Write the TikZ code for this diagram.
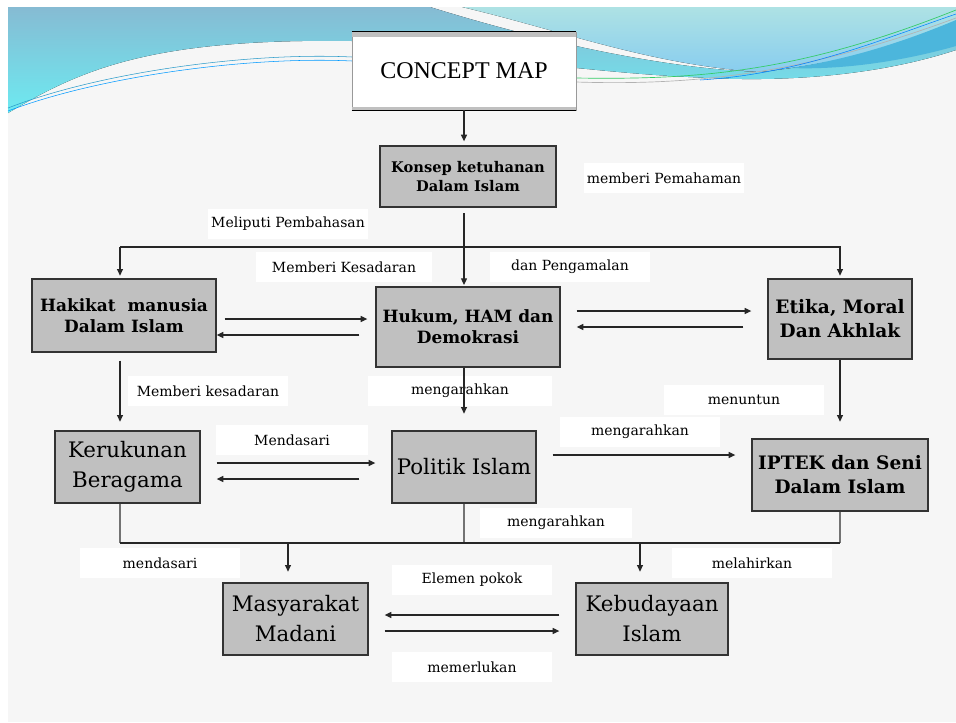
\documentclass[tikz,border=0pt]{standalone}
\usepackage{fontspec}
\setmainfont{DejaVu Serif}
\newfontfamily\titlefont{Liberation Serif}
\usetikzlibrary{arrows.meta,calc}

\definecolor{boxgray}{HTML}{C0C0C0}
\definecolor{slidebg}{HTML}{F6F6F6}
\definecolor{wavetop}{HTML}{86BBD3}
\definecolor{wavebot}{HTML}{6DEAF1}
\definecolor{skytop}{HTML}{AEE2E4}
\definecolor{skybot}{HTML}{88CDEF}
\definecolor{stripe}{HTML}{4CB6DC}

\begin{document}
\begin{tikzpicture}[x=0.75pt,y=-0.75pt,
  topic/.style={draw=black!80, line width=1pt, fill=boxgray, align=center, inner sep=1pt},
  small bold/.style={font=\bfseries\fontsize{11}{14}\selectfont},
  mid bold/.style={font=\bfseries\fontsize{12.7}{16}\selectfont},
  large bold/.style={font=\bfseries\fontsize{13.9}{18}\selectfont},
  plain big/.style={font=\fontsize{16}{22.5}\selectfont},
  note/.style={fill=white, minimum width=120pt, minimum height=22pt, inner sep=1pt,
    font=\fontsize{10.5}{12}\selectfont},
  link/.style={draw=black!85, line width=0.9pt, -{Triangle[length=5pt,width=4.5pt]}},
  rail/.style={draw=black!85, line width=0.9pt},
  stem/.style={draw=black!55, line width=0.9pt}]

\useasboundingbox (0,0) rectangle (956,722);
\fill[white] (0,0) rectangle (956,722);
\fill[slidebg] (8,7) rectangle (956,722);

% header waves
\fill[top color=wavetop, bottom color=wavebot]
  (8,7) -- (430,7) .. controls (520,35) and (650,68) .. (760,72)
  .. controls (850,62) and (920,40) .. (956,25) -- (956,50)
  .. controls (880,75) and (790,82) .. (709,78)
  .. controls (640,75) and (600,70) .. (576,68) -- (352,41)
  .. controls (150,38) and (80,70) .. (8,113) -- cycle;
\fill[top color=skytop, bottom color=skybot]
  (462,7) -- (956,7) -- (956,25) .. controls (920,40) and (850,62) .. (760,72)
  .. controls (650,65) and (560,30) .. (462,7) -- cycle;
\fill[stripe] (790,68) .. controls (860,58) and (920,35) .. (956,20) -- (956,46)
  .. controls (900,62) and (840,70) .. (790,68) -- cycle;
\draw[cyan!60!teal, line width=0.4pt] (8,108) .. controls (100,72) and (250,52) .. (352,57);
\draw[blue!40!cyan, line width=0.4pt] (8,111) .. controls (100,76) and (250,56) .. (352,61);
\draw[green!50!teal!80, line width=0.5pt] (576,78) .. controls (700,80) and (800,72) .. (956,10);
\draw[black!30, line width=0.5pt] (576,82) .. controls (700,86) and (810,72) .. (956,18);
\draw[blue!50!cyan, line width=0.4pt] (700,80) .. controls (800,74) and (880,40) .. (956,14);

% labels on the links
\node[note] (l1) at (664,178) {memberi Pemahaman};
\node[note] (l2) at (288,224) {Meliputi Pembahasan};
\node[note, minimum width=132pt] (l3) at (344,267) {Memberi Kesadaran};
\node[note] (l4) at (570,267) {dan Pengamalan};
\node[note] (l5) at (208,391) {Memberi kesadaran};
\node[note, minimum width=138pt] (l6) at (460,391) {mengarahkan};
\node[note] (l7) at (744,400) {menuntun};
\node[note, minimum width=114pt] (l8) at (292,440) {Mendasari};
\node[note] (l9) at (640,432) {mengarahkan};
\node[note, minimum width=114pt] (l10) at (556,523) {mengarahkan};
\node[note] (l11) at (160,563) {mendasari};
\node[note] (l12) at (752,563) {melahirkan};
\node[note] (l13) at (472,580) {Elemen pokok};
\node[note] (l14) at (472,667) {memerlukan};

% topics
\node[draw=black!40, line width=0.5pt, fill=white, minimum width=168pt, minimum height=58.5pt,
  font=\titlefont\fontsize{18}{20}\selectfont] (cm) at (464,71) {CONCEPT MAP};
\fill[boxgray] (cm.north west) rectangle ($(cm.north east)+(0,5)$);
\fill[boxgray] ($(cm.south west)+(0,-3)$) rectangle (cm.south east);
\draw[line width=1.1pt] (cm.north west) -- (cm.north east);
\draw[line width=1.1pt] (cm.south west) -- (cm.south east);

\node[topic, small bold, minimum width=132pt, minimum height=45.75pt] (ks) at (468,176.5) {Konsep ketuhanan\\Dalam Islam};
\node[topic, mid bold, minimum width=138pt, minimum height=54.75pt] (hk) at (124,315.5) {Hakikat~ manusia\\Dalam Islam};
\node[topic, mid bold, minimum width=138pt, minimum height=60pt] (hm) at (468,327) {Hukum, HAM dan\\Demokrasi};
\node[topic, large bold, minimum width=108pt, minimum height=60pt] (et) at (840,319) {Etika, Moral\\Dan Akhlak};
\node[topic, plain big, minimum width=108.75pt, minimum height=54pt] (kr) at (127.5,467) {Kerukunan\\Beragama};
\node[topic, plain big, minimum width=108pt, minimum height=54pt] (pi) at (464,467) {Politik Islam};
\node[topic, large bold, minimum width=132pt, minimum height=54pt] (ip) at (840,475) {IPTEK dan Seni\\Dalam Islam};
\node[topic, plain big, minimum width=108.75pt, minimum height=54pt] (mm) at (295.5,619) {Masyarakat\\Madani};
\node[topic, plain big, minimum width=114pt, minimum height=54pt] (kb) at (652,619) {Kebudayaan\\Islam};

% lanes
\coordinate (colA) at (120,0);
\coordinate (colC) at (840,0);
\coordinate (fork) at (464,247);
\coordinate (merge) at (464,543);
\coordinate (drop1) at (288,543);
\coordinate (drop2) at (640,543);

% links
\draw[link, shorten >=3pt] (cm.south) -- (cm.south |- ks.north);
\draw[link, shorten <=4pt, shorten >=1pt] (cm.south |- ks.south) -- (cm.south |- hm.north);
\draw[link, shorten >=2pt] (colA |- fork) -- (colA |- hk.north);
\draw[link, shorten >=2pt] (colA |- fork) -- (colC |- fork) -- (colC |- et.north);

\draw[link] ($(hk.east)+(8,3.5)$) -- ($(hm.west)+(-8,-8)$);
\draw[link] ($(hm.west)+(-16,8)$) -- ($(hk.east)+(0,19.5)$);
\draw[link] ($(hm.east)+(16,-16)$) -- ($(et.west)+(-16,-8)$);
\draw[link] ($(et.west)+(-24,8)$) -- ($(hm.east)+(16,0)$);

\draw[link, shorten <=6pt, shorten >=6.5pt] (colA |- hk.south) -- (colA |- kr.north);
\draw[link, shorten >=12.5pt] (cm.south |- hm.south) -- (cm.south |- pi.north);
\draw[link, shorten >=12.5pt] (et.south) -- (ip.north);

\draw[link] ($(kr.east)+(16,-4)$) -- ($(pi.west)+(-16,-4)$);
\draw[link] ($(pi.west)+(-32,12)$) -- ($(kr.east)+(16,12)$);
\draw[link] ($(pi.east)+(16,-12)$) -- ($(ip.west)+(-16,-20)$);

\draw[stem] (colA |- kr.south) -- (colA |- merge);
\draw[stem] (pi.south) -- (pi.south |- merge);
\draw[stem] (ip.south) -- (ip.south |- merge);
\draw[rail] (colA |- merge) -- (colC |- merge);
\draw[link, shorten >=8pt] (drop1) -- (drop1 |- mm.north);
\draw[link, shorten >=8pt] (drop2) -- (drop2 |- kb.north);

\draw[link] ($(kb.west)+(-16,-4)$) -- ($(mm.east)+(16,-4)$);
\draw[link] ($(mm.east)+(16,12)$) -- ($(kb.west)+(-16,12)$);
\end{tikzpicture}
\end{document}
